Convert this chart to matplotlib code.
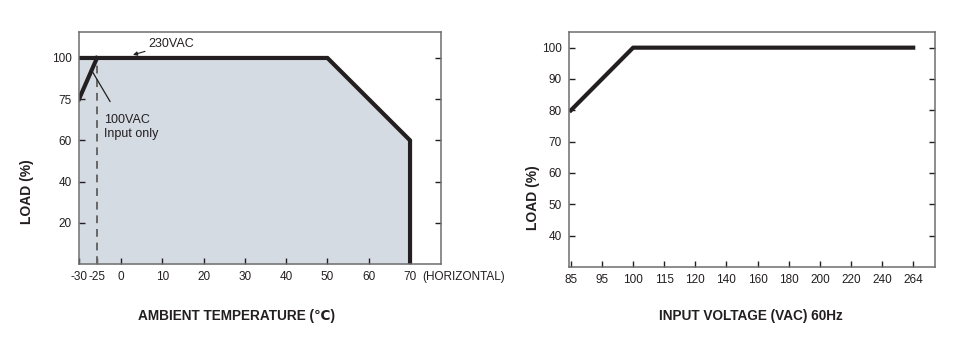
import numpy as np
import matplotlib
matplotlib.use("Agg")
import matplotlib.pyplot as plt

plt.rcParams["font.family"] = ["Liberation Sans Narrow", "Liberation Sans", "DejaVu Sans"]

# derating vs ambient temperature
temp_230 = [-30, 50, 70, 70]
load_230 = [100, 100, 60, 0]
temp_100 = [-30, -25]
load_100 = [75, 100]
temp_ticks = [-30, -25, 0, 10, 20, 30, 40, 50, 60, 70]
temp_load_ticks = [20, 40, 60, 75, 100]

# derating vs input voltage
volt = [85, 100, 264]
volt_load = [80, 100, 100]
volt_ticks = [85, 95, 100, 115, 120, 140, 160, 180, 200, 220, 240, 264]
volt_load_ticks = [40, 50, 60, 70, 80, 90, 100]

INK = "#231f20"
SPINE = "#6e6e6e"
FILL = "#d5dbe3"


def piecewise(src, dst):
    src = np.asarray(src, float)
    dst = np.asarray(dst, float)
    fwd = lambda v: np.interp(v, src, dst)
    inv = lambda v: np.interp(v, dst, src)
    return fwd, inv


def style_axes(ax):
    for s in ax.spines.values():
        s.set_color(SPINE)
        s.set_linewidth(1.1)
    ax.tick_params(direction="in", length=4, width=1, color=INK,
                   right=True, labelright=False, labelsize=8.5,
                   labelcolor=INK, pad=5)


fig = plt.figure(figsize=(9.68, 3.42), dpi=100)

# ---- left: load vs ambient temperature ----
ax1 = fig.add_axes([79 / 968, 78 / 342, 362 / 968, 232 / 342])
fx, ix = piecewise([-60, -30, -25, 0, 200], [-36.3, -10.17, -5.81, 0, 200])
ax1.set_xscale("function", functions=(fx, ix))
fy, iy = piecewise([-50, 0, 60, 75, 100, 300], [-50, 0, 60, 80, 100, 300])
ax1.set_yscale("function", functions=(fy, iy))
ax1.set_xlim(-30, 77.5)
ax1.set_ylim(0, 112.6)

ax1.fill_between(temp_230, load_230, 0, color=FILL, lw=0)
ax1.plot([-25, -25], [0, 100], color="#666666", lw=1.4, ls=(0, (4, 3)))
ax1.plot(temp_230, load_230, color=INK, lw=3, solid_joinstyle="miter")
ax1.plot(temp_100, load_100, color=INK, lw=3)

ax1.set_xticks(temp_ticks)
ax1.set_xticklabels([str(t) for t in temp_ticks])
ax1.set_yticks(temp_load_ticks)
ax1.minorticks_off()
style_axes(ax1)

ax1.annotate("(HORIZONTAL)", xy=(70, 0), xycoords=("data", "axes fraction"),
             xytext=(9, -5), textcoords="offset points", ha="left", va="top",
             fontsize=8.5, color=INK)

ax1.annotate("230VAC", xy=(2.9, 101.5), xytext=(6.5, 106.8),
             ha="left", va="center", fontsize=9, color=INK,
             arrowprops=dict(arrowstyle="-|>", color=INK, lw=0.8,
                             mutation_scale=6, shrinkA=0, shrinkB=0))
ax1.annotate("", xy=(-26.5, 92.5), xytext=(0.086, 0.70),
             textcoords="axes fraction",
             arrowprops=dict(arrowstyle="-", color=INK, lw=0.9,
                             shrinkA=0, shrinkB=0))
ax1.text(0.069, 0.59, "100VAC\nInput only", transform=ax1.transAxes,
         ha="left", va="center", fontsize=9, color=INK, linespacing=1.25)

fig.text(27 / 968, 1 - 192 / 342, "LOAD (%)", rotation=90, ha="center",
         va="center", fontsize=10, fontweight="bold", color=INK)
fig.text(236 / 968, 1 - 316 / 342, "AMBIENT TEMPERATURE (℃)", ha="center",
         va="center", fontsize=9.8, fontweight="bold", color=INK)

# ---- right: load vs input voltage ----
ax2 = fig.add_axes([569 / 968, 75 / 342, 366 / 968, 235 / 342])
vsrc = [60] + volt_ticks + [300]
vdst = [-2.5] + list(range(len(volt_ticks))) + [len(volt_ticks) - 1 + 36 / 24]
fv, iv = piecewise(vsrc, vdst)
ax2.set_xscale("function", functions=(fv, iv))
ax2.set_xlim(84.4, 280.8)
ax2.set_ylim(30, 105)

ax2.plot(volt, volt_load, color=INK, lw=3)

ax2.set_xticks(volt_ticks)
ax2.set_xticklabels([str(v) for v in volt_ticks])
ax2.set_yticks(volt_load_ticks)
ax2.minorticks_off()
style_axes(ax2)

fig.text(533 / 968, 1 - 198 / 342, "LOAD (%)", rotation=90, ha="center",
         va="center", fontsize=10, fontweight="bold", color=INK)
fig.text(751 / 968, 1 - 316 / 342, "INPUT VOLTAGE (VAC) 60Hz", ha="center",
         va="center", fontsize=9.8, fontweight="bold", color=INK)

fig.savefig("out.png", dpi=100)
